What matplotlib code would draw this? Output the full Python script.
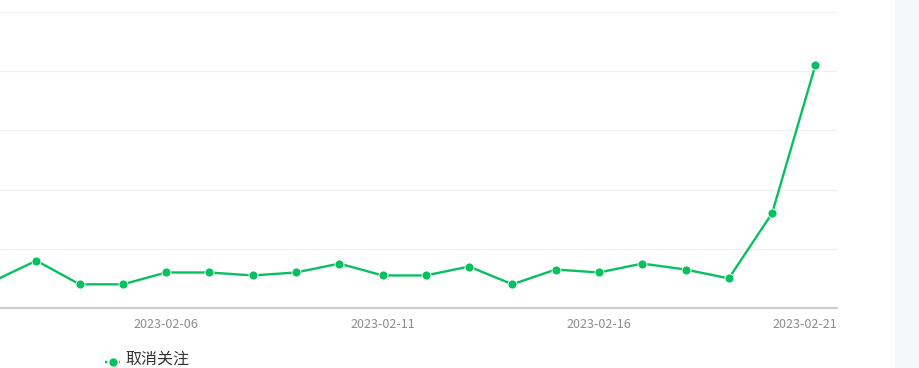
import matplotlib
matplotlib.use("Agg")
import matplotlib.pyplot as plt
import matplotlib.transforms as mtransforms
from matplotlib.lines import Line2D
from matplotlib.patches import Rectangle

plt.rcParams['font.family'] = ['Noto Sans CJK SC', 'DejaVu Sans']

dates = ['2023-02-02', '2023-02-03', '2023-02-04', '2023-02-05', '2023-02-06',
         '2023-02-07', '2023-02-08', '2023-02-09', '2023-02-10', '2023-02-11',
         '2023-02-12', '2023-02-13', '2023-02-14', '2023-02-15', '2023-02-16',
         '2023-02-17', '2023-02-18', '2023-02-19', '2023-02-20', '2023-02-21']
unfollow = [9, 16, 8, 8, 12, 12, 11, 12, 15, 11, 11, 14, 8, 13, 12, 15, 13, 10, 32, 82]
shown_ticks = ['2023-02-06', '2023-02-11', '2023-02-16', '2023-02-21']
series_name = '取消关注'
y_ticks = [0, 20, 40, 60, 80, 100]

green = '#07c160'
W, H = 919, 368
fig = plt.figure(figsize=(W / 100, H / 100), dpi=100)
fig.patch.set_facecolor('white')

# right side gray panel
fig.add_artist(Rectangle((895 / W, 0), (W - 895) / W, 1, transform=fig.transFigure,
                         facecolor='#f5f6f8', edgecolor='none', zorder=0))

left_px, right_px = -28.6, 837
top_px, bottom_px = 12, 308
ax = fig.add_axes([left_px / W, 1 - bottom_px / H, (right_px - left_px) / W, (bottom_px - top_px) / H])
ax.set_facecolor('none')

x = list(range(len(dates)))
ax.plot(x, unfollow, color=green, lw=1.7, marker='o', markersize=6.5,
        markeredgecolor='white', markeredgewidth=0.6, zorder=3, clip_on=False)

ax.set_xlim(-0.5, len(dates) - 0.5)
ax.set_ylim(y_ticks[0], y_ticks[-1])
ax.set_yticks(y_ticks)
ax.set_yticklabels([])
ax.tick_params(axis='y', length=0)
ax.grid(axis='y', color='#f0f0f0', lw=1)
ax.set_axisbelow(True)

tick_pos = [dates.index(d) for d in shown_ticks]
ax.set_xticks(tick_pos)
ax.set_xticklabels(shown_ticks, fontsize=9, color='#8c8c8c')
ax.tick_params(axis='x', length=0, pad=7)
labels = ax.get_xticklabels()
labels[-1].set_horizontalalignment('right')
labels[-1].set_transform(labels[-1].get_transform() +
                         mtransforms.ScaledTranslation(22 / 100, 0, fig.dpi_scale_trans))

for s in ['top', 'right', 'left']:
    ax.spines[s].set_visible(False)
ax.spines['bottom'].set_color('#cccccc')
ax.spines['bottom'].set_linewidth(1.6)

# legend
fig.add_artist(Line2D([105 / W, 120 / W], [1 - 362 / H, 1 - 362 / H], transform=fig.transFigure,
                      color=green, lw=1.7, linestyle=(0, (1, 1))))
fig.add_artist(Line2D([112.5 / W], [1 - 362 / H], transform=fig.transFigure,
                      color=green, marker='o', markersize=6.5, markeredgecolor='white',
                      markeredgewidth=0.5))
fig.text(125 / W, 1 - 359 / H, series_name, fontsize=11.5, color='#333333', va='center', ha='left')

fig.savefig('out.png', dpi=100)
